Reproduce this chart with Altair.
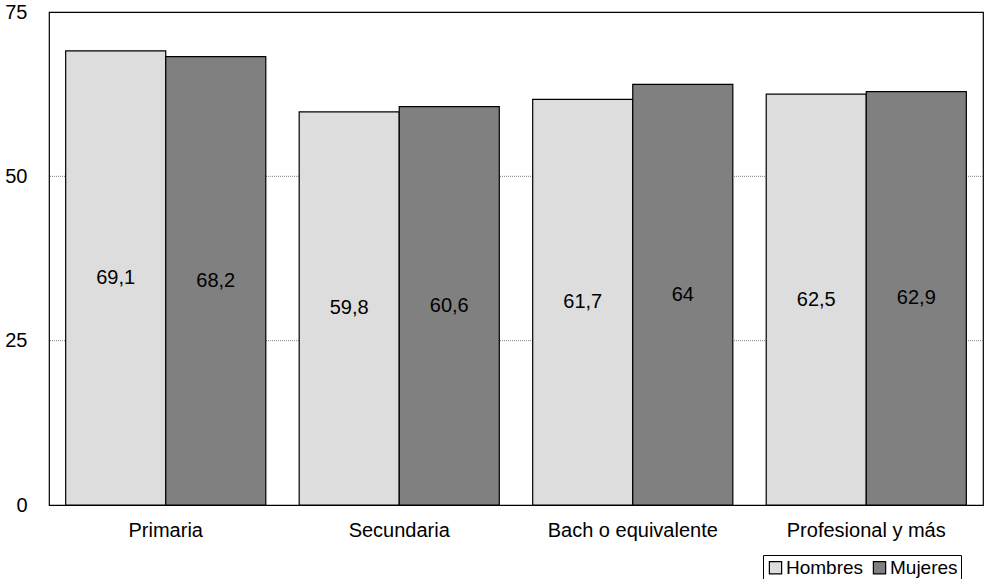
import altair as alt
import pandas as pd

categories = ["Primaria", "Secundaria", "Bach o equivalente", "Profesional y más"]
hombres = [69.1, 59.8, 61.7, 62.5]
mujeres = [68.2, 60.6, 64.0, 62.9]
series = ["Hombres", "Mujeres"]
colors = ["#DDDDDD", "#808080"]
grid_values = [25, 50]
tick_values = [0, 25, 50, 75]

def fmt(v):
    s = ("%.1f" % v).rstrip("0").rstrip(".")
    return s.replace(".", ",")

rows = []
for c, h, m in zip(categories, hombres, mujeres):
    rows.append({"cat": c, "serie": "Hombres", "valor": h, "lab": fmt(h)})
    rows.append({"cat": c, "serie": "Mujeres", "valor": m, "lab": fmt(m)})
df = pd.DataFrame(rows)
gdf = pd.DataFrame({"g": grid_values})

FONT = "Liberation Sans"
FS = 20
yscale = alt.Scale(domain=[0, 75], nice=False)
yaxis = alt.Axis(values=tick_values, ticks=False, domain=False, labelPadding=22,
                 labelFontSize=FS, labelFont=FONT, labelColor="black", grid=False)

x = alt.X("cat:N", sort=categories, title=None,
          scale=alt.Scale(paddingInner=0.143, paddingOuter=0.0714),
          axis=alt.Axis(labelAngle=0, ticks=False, domain=False, labelPadding=15,
                        labelFontSize=FS, labelFont=FONT, labelColor="black"))

grid = alt.Chart(gdf).mark_rule(color="#808080", strokeWidth=1, strokeDash=[1, 1]).encode(
    y=alt.Y("g:Q", scale=yscale, title=None, axis=yaxis)
)

base = alt.Chart(df).encode(
    x=x,
    xOffset=alt.XOffset("serie:N", sort=series, scale=alt.Scale(paddingInner=0, paddingOuter=0)),
)

bars = base.mark_bar(stroke="black", strokeWidth=1.2).encode(
    y=alt.Y("valor:Q", title=None, scale=yscale, axis=yaxis),
    color=alt.Color("serie:N", sort=series,
                    scale=alt.Scale(domain=series, range=colors),
                    legend=alt.Legend(title=None, orient="none", direction="horizontal",
                                      legendX=714, legendY=543,
                                      symbolType="square", symbolSize=150,
                                      symbolStrokeColor="black", symbolStrokeWidth=1.2,
                                      labelFontSize=19, labelFont=FONT, labelColor="black",
                                      strokeColor="black", fillColor="white",
                                      padding=3, columnPadding=6, labelOffset=1)),
)

texts = base.mark_text(fontSize=FS, font=FONT, color="black").encode(
    y=alt.Y("mid:Q", scale=yscale, axis=yaxis, title=None),
    text="lab:N",
).transform_calculate(mid="datum.valor / 2")

chart = alt.layer(grid, bars, texts).properties(
    width=934, height=493,
    background="white",
    autosize=alt.AutoSizeParams(type="none"),
    padding={"left": 49, "top": 12, "right": 4, "bottom": 74},
).configure_view(stroke="black", strokeWidth=1.2)

chart.save("out.html", embed_options={"renderer": "svg", "actions": False})
